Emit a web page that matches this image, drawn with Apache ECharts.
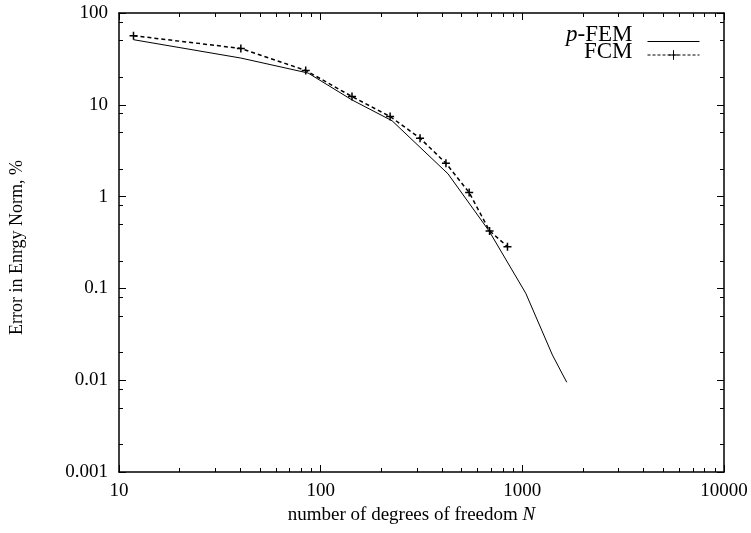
<!DOCTYPE html>
<html>
<head>
<meta charset="utf-8">
<script src="https://cdn.jsdelivr.net/npm/echarts@6/dist/echarts.min.js"></script>
<style>html,body{margin:0;padding:0;background:#fff}#c{width:751px;height:533px}</style>
</head>
<body>
<div id="c"></div>
<script>
// ---- data ----
var pfemN   = [11.8, 40.2, 86.6, 143, 226, 428, 685, 1040, 1410, 1660];
var pfemErr = [51.2, 32.3, 22.2, 11.3, 6.7, 1.77, 0.42, 0.0885, 0.0188, 0.0095];
var fcmN    = [11.8, 40.2, 84.3, 143, 221, 311, 418, 545, 688, 844];
var fcmErr  = [56.6, 41.1, 23.7, 12.3, 7.45, 4.33, 2.31, 1.106, 0.423, 0.285];
var xTickLabels = [10, 100, 1000, 10000];
var yTickLabels = [0.001, 0.01, 0.1, 1, 10, 100];
var xMinorMult = [2, 3, 4, 5, 6, 7, 8, 9];
var yMinorMult = [2, 5, 8];

function minorVals(majors, mult) {
  var out = [];
  for (var i = 0; i < majors.length - 1; i++) {
    for (var j = 0; j < mult.length; j++) out.push(majors[i] * mult[j]);
  }
  return out;
}
var xMinor = minorVals(xTickLabels, xMinorMult);
var yMinor = minorVals(yTickLabels, yMinorMult);

var FONT = 'Liberation Serif';
var black = '#000';

function fmt(v) { return String(parseFloat(Number(v).toPrecision(3))); }

function xAx(pos, ticks, len, showLine, showLabel) {
  return {
    type: 'log', logBase: 10, min: 10, max: 10000, position: pos,
    axisLine: {show: showLine, lineStyle: {color: black, width: 1.5}},
    axisTick: {show: true, inside: true, length: len, customValues: ticks, lineStyle: {color: black, width: 1}},
    axisLabel: {show: showLabel, customValues: xTickLabels, formatter: fmt, color: black, fontFamily: FONT, fontSize: 19, margin: 10},
    splitLine: {show: false}, minorTick: {show: false}
  };
}
function yAx(pos, ticks, len, showLine, showLabel) {
  return {
    type: 'log', logBase: 10, min: 0.001, max: 100, position: pos,
    axisLine: {show: showLine, lineStyle: {color: black, width: 1.5}},
    axisTick: {show: true, inside: true, length: len, customValues: ticks, lineStyle: {color: black, width: 1}},
    axisLabel: {show: showLabel, customValues: yTickLabels, formatter: fmt, color: black, fontFamily: FONT, fontSize: 19, margin: 11},
    splitLine: {show: false}, minorTick: {show: false}
  };
}

var xMain = xAx('bottom', xTickLabels, 7, true, true);
xMain.name = '{n|number of degrees of freedom }{i|N}';
xMain.nameLocation = 'middle';
xMain.nameGap = 31;
xMain.nameTextStyle = {color: black, fontFamily: FONT, fontSize: 19, padding: [0, 20, 0, 0],
  rich: {n: {fontFamily: FONT, fontSize: 19, color: black}, i: {fontFamily: FONT, fontSize: 19, fontStyle: 'italic', color: black}}};

var yMain = yAx('left', yTickLabels, 7, true, true);
yMain.name = 'Error in Enrgy Norm, %';
yMain.nameLocation = 'middle';
yMain.nameGap = 93;
yMain.nameTextStyle = {color: black, fontFamily: FONT, fontSize: 18, padding: [0, 10, 0, 0]};

function legText(padBottom) {
  return {color: black, fontFamily: FONT, fontSize: 23, lineHeight: 17, padding: [0, 10, padBottom, 0],
    rich: {n: {fontFamily: FONT, fontSize: 23, lineHeight: 17, color: black},
           i: {fontFamily: FONT, fontSize: 23, lineHeight: 17, fontStyle: 'italic', color: black}}};
}

var option = {
  animation: false,
  backgroundColor: '#fff',
  grid: {left: 117, right: 27, top: 13, bottom: 61, containLabel: false},
  legend: [
    {data: ['p-FEM'], orient: 'vertical', right: 51, top: 23, align: 'right', itemWidth: 52, itemHeight: 12, padding: 0,
     formatter: function () { return '{i|p}{n|-FEM}'; }, textStyle: legText(14), selectedMode: false,
     itemStyle: {opacity: 0}, lineStyle: {width: 1}},
    {data: ['FCM'], orient: 'vertical', right: 51, top: 40, align: 'right', itemWidth: 52, itemHeight: 12, padding: 0,
     formatter: function () { return '{n|FCM}'; }, textStyle: legText(7), selectedMode: false,
     lineStyle: {width: 1, type: [3, 2]}, itemStyle: {borderWidth: 1}}
  ],
  xAxis: [
    xMain,
    xAx('bottom', xMinor, 4, false, false),
    xAx('top', xTickLabels, 7, true, false),
    xAx('top', xMinor, 4, false, false)
  ],
  yAxis: [
    yMain,
    yAx('left', yMinor, 4, false, false),
    yAx('right', yTickLabels, 7, true, false),
    yAx('right', yMinor, 4, false, false)
  ],
  series: [
    {
      name: 'p-FEM', type: 'line', xAxisIndex: 0, yAxisIndex: 0,
      data: pfemN.map(function (n, i) { return [n, pfemErr[i]]; }),
      symbol: 'none', showSymbol: false,
      lineStyle: {color: black, width: 1, type: 'solid'},
      itemStyle: {color: black}
    },
    {
      name: 'FCM', type: 'line', xAxisIndex: 0, yAxisIndex: 0,
      data: fcmN.map(function (n, i) { return [n, fcmErr[i]]; }),
      symbol: 'path://M0,5L10,5M5,0L5,10', symbolSize: 8, showSymbol: true,
      lineStyle: {color: black, width: 1.5, type: [4, 3]},
      itemStyle: {color: black, borderColor: black, borderWidth: 1.5}
    }
  ]
};
var chart = echarts.init(document.getElementById('c'), null, {renderer: 'canvas'});
chart.setOption(option);
</script>
</body>
</html>
